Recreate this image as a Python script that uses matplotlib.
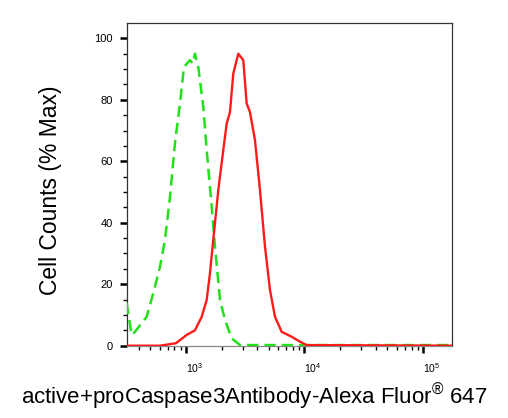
import numpy as np
import matplotlib
matplotlib.use('Agg')
import matplotlib.pyplot as plt
from matplotlib.ticker import FixedLocator, NullFormatter

plt.rcParams['font.family'] = ['Liberation Sans', 'DejaVu Sans']
plt.rcParams['mathtext.fontset'] = 'custom'
plt.rcParams['mathtext.rm'] = 'Liberation Sans'
plt.rcParams['mathtext.it'] = 'Liberation Sans'

# stained sample (red, solid)
red_x = [320, 604, 823, 1014, 1191, 1357, 1496, 1594, 1699, 1874, 2064, 2206, 2351,
         2507, 2763, 3045, 3252, 3467, 3822, 4212, 4642, 5116, 5637, 6421, 7798,
         9162, 10436, 174000]
red_y = [0, 0, 0.8, 3.5, 5, 9.4, 14.9, 23.6, 34.4, 50.6, 63.6, 72.3, 76,
         88.5, 95, 92.9, 78.8, 76, 66.9, 50.6, 32.2, 18.1, 9.4, 4.5, 2.9,
         1.3, 0.2, 0]

# control (green, dashed)
green_x = [316, 348, 371, 466, 529, 604, 665, 733, 807, 890, 962, 1081, 1139, 1191,
           1270, 1400, 1496, 1648, 1758, 1937, 2134, 2430, 2857, 174000]
green_y = [13.9, 3.5, 4.5, 9.4, 17, 25.7, 34.4, 48.4, 65.8, 78.8, 90.7, 92.9, 91.8, 95,
           90.7, 77.7, 63.6, 45.2, 32.2, 14.9, 8.4, 2.4, 0.2, 0.2]

x_major = [1e3, 1e4, 1e5]
x_major_labels = [r'$10^{3}$', r'$10^{4}$', r'$10^{5}$']
y_major = [0, 20, 40, 60, 80, 100]

fig = plt.figure(figsize=(5.08, 4.18), dpi=100)
ax = fig.add_axes([0.2494, 0.173, 0.6398, 0.772])

ax.plot(green_x, green_y, color='#22e01a', lw=1.8, dashes=(4.5, 2.4), zorder=3)
ax.plot(red_x, red_y, color='#ff1a1a', lw=1.7, zorder=4)

ax.set_xscale('log')
ax.set_xlim(10**2.5, 10**5.242)
ax.set_ylim(0, 105)

ax.xaxis.set_major_locator(FixedLocator(x_major))
ax.set_xticklabels(x_major_labels)
minors = [m * 10**k for k in range(2, 6) for m in range(2, 10)]
ax.xaxis.set_minor_locator(FixedLocator(minors))
ax.xaxis.set_minor_formatter(NullFormatter())

ax.yaxis.set_major_locator(FixedLocator(y_major))
ax.yaxis.set_minor_locator(FixedLocator(np.arange(0, 105, 5)))

ax.tick_params(axis='both', which='major', length=5, width=1.8, color='black')
ax.tick_params(axis='both', which='minor', length=3, width=1.0, color='black')
ax.tick_params(axis='y', which='major', labelsize=8, pad=5)
ax.tick_params(axis='x', which='major', labelsize=7.5, pad=6)
for lab in ax.get_xticklabels():
    lab.set_horizontalalignment('left')

for s in ax.spines.values():
    s.set_linewidth(0.9)
    s.set_color('#333333')
ax.spines['bottom'].set_color('#888888')

fig.text(0.5, 0.053, 'active+proCaspase3Antibody-Alexa Fluor$^{\u00ae}$ 647',
         ha='center', va='center', fontsize=16)
fig.text(0.1, 0.545, 'Cell Counts (% Max)', rotation=90,
         ha='center', va='center', fontsize=16.5)

fig.savefig('out.png', dpi=100)
